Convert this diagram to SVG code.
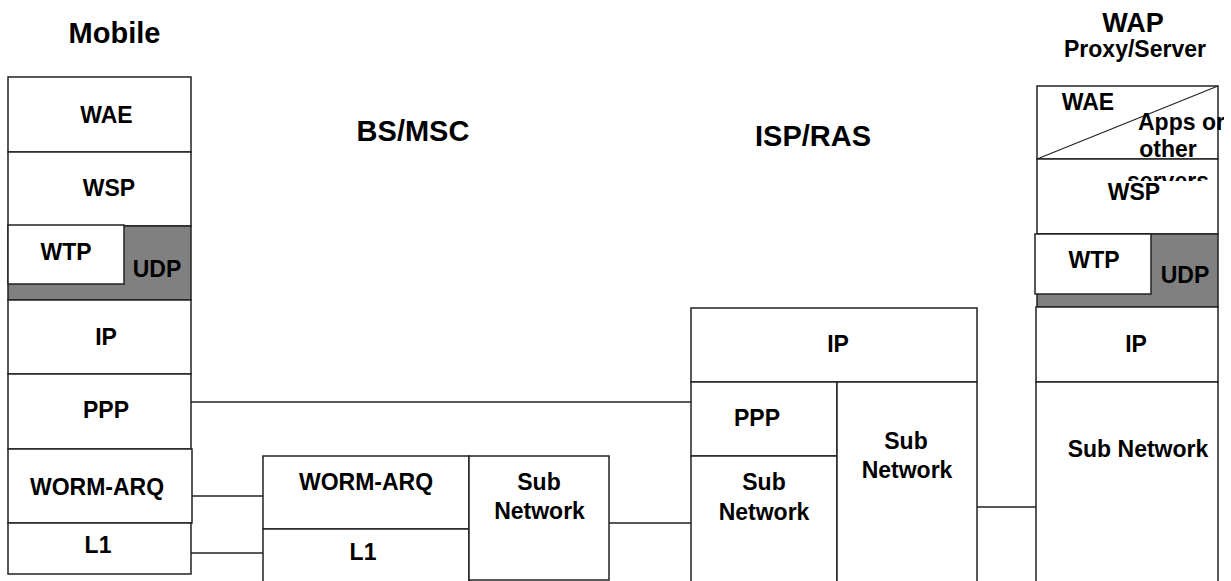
<svg xmlns="http://www.w3.org/2000/svg" width="1231" height="581" viewBox="0 0 1231 581">
<style>
  .box { fill: #ffffff; stroke: #222; stroke-width: 1.5; }
  .gray { fill: #808080; stroke: #222; stroke-width: 1.5; }
  .lbl { font-family: "Liberation Sans", Arial, sans-serif; font-weight: bold; font-size: 23px; fill: #000; text-anchor: middle; }
  .ttl { font-family: "Liberation Sans", Arial, sans-serif; font-weight: bold; font-size: 29px; fill: #000; text-anchor: middle; }
  .conn { stroke: #222; stroke-width: 1.5; fill: none; }
</style>
<defs>
  <clipPath id="appsClip"><rect x="1037" y="86" width="187" height="95"/></clipPath>
</defs>
<rect width="1231" height="581" fill="#ffffff"/>

<g id="titles">
  <text class="ttl" x="114.5" y="43">Mobile</text>
  <text class="ttl" x="413" y="141">BS/MSC</text>
  <text class="ttl" x="813" y="146">ISP/RAS</text>
  <text class="ttl" x="1133" y="32" style="font-size:27px">WAP</text>
  <text class="lbl" x="1135" y="57">Proxy/Server</text>
</g>

<g id="connectors">
  <line class="conn" x1="191" y1="402" x2="691" y2="402"/>
  <line class="conn" x1="192" y1="496" x2="263" y2="496"/>
  <line class="conn" x1="191" y1="553" x2="263" y2="553"/>
  <line class="conn" x1="609" y1="523" x2="691" y2="523"/>
  <line class="conn" x1="977" y1="507" x2="1036" y2="507"/>
</g>

<g id="mobile">
  <rect class="box" x="8" y="77" width="183" height="75"/>
  <text class="lbl" x="106.5" y="123">WAE</text>
  <rect class="box" x="8" y="152" width="183" height="74"/>
  <text class="lbl" x="109" y="196">WSP</text>
  <rect class="gray" x="8" y="226" width="183" height="74"/>
  <rect class="box" x="8" y="225" width="116" height="59"/>
  <text class="lbl" x="66" y="260">WTP</text>
  <text class="lbl" x="157" y="277">UDP</text>
  <rect class="box" x="8" y="300" width="183" height="74"/>
  <text class="lbl" x="106" y="345">IP</text>
  <rect class="box" x="8" y="374" width="183" height="75"/>
  <text class="lbl" x="106" y="418">PPP</text>
  <rect class="box" x="8" y="449" width="184" height="74"/>
  <text class="lbl" x="97" y="495">WORM-ARQ</text>
  <rect class="box" x="8" y="523" width="183" height="51"/>
  <text class="lbl" x="98" y="553">L1</text>
</g>

<g id="bsmsc">
  <rect class="box" x="263" y="456" width="206" height="73"/>
  <text class="lbl" x="366" y="490">WORM-ARQ</text>
  <rect class="box" x="263" y="529" width="206" height="60"/>
  <text class="lbl" x="363" y="560">L1</text>
  <rect class="box" x="469" y="456" width="140" height="124"/>
  <text class="lbl" x="539" y="490">Sub</text>
  <text class="lbl" x="539.5" y="519">Network</text>
</g>

<g id="isprass">
  <rect class="box" x="691" y="308" width="286" height="74"/>
  <text class="lbl" x="838" y="352">IP</text>
  <rect class="box" x="691" y="382" width="146" height="74"/>
  <text class="lbl" x="757" y="426">PPP</text>
  <rect class="box" x="691" y="456" width="146" height="135"/>
  <text class="lbl" x="764" y="490">Sub</text>
  <text class="lbl" x="764" y="520">Network</text>
  <rect class="box" x="837" y="382" width="140" height="209"/>
  <text class="lbl" x="906" y="449">Sub</text>
  <text class="lbl" x="907" y="478">Network</text>
</g>

<g id="wap">
  <rect class="box" x="1037" y="86" width="181" height="73"/>
  <line class="conn" x1="1037" y1="159" x2="1218" y2="86" style="stroke-width:1.2"/>
  <text class="lbl" x="1088" y="110">WAE</text>
  <rect class="box" x="1037" y="159" width="181" height="75"/>
  <g clip-path="url(#appsClip)">
    <text class="lbl" x="1138" y="130" style="text-anchor:start">Apps or</text>
    <text class="lbl" x="1168" y="157">other</text>
    <text class="lbl" x="1168" y="189">servers</text>
  </g>
  <text class="lbl" x="1134" y="200">WSP</text>
  <rect class="gray" x="1037" y="234" width="181" height="73"/>
  <rect class="box" x="1035" y="234" width="116" height="60"/>
  <text class="lbl" x="1094" y="268">WTP</text>
  <text class="lbl" x="1185" y="283">UDP</text>
  <rect class="box" x="1036" y="307" width="182" height="75"/>
  <text class="lbl" x="1136" y="352">IP</text>
  <rect class="box" x="1036" y="382" width="182" height="209"/>
  <text class="lbl" x="1138" y="457">Sub Network</text>
</g>
</svg>
